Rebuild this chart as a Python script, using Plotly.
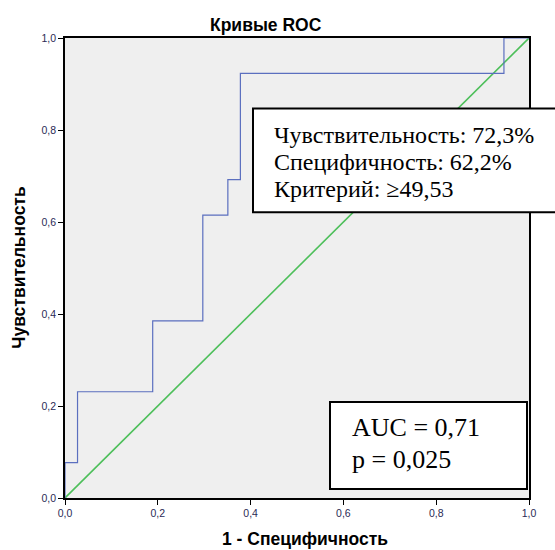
import plotly.graph_objects as go

# ROC curve data (step points, line_shape hv)
fpr = [0.0, 0.0, 0.027, 0.189, 0.297, 0.351, 0.378, 0.946, 1.0]
tpr = [0.0, 0.077, 0.231, 0.385, 0.615, 0.692, 0.923, 1.0, 1.0]
ref_x = [0.0, 1.0]
ref_y = [0.0, 1.0]
tick_vals = [0.0, 0.2, 0.4, 0.6, 0.8, 1.0]
tick_text = ["0,0", "0,2", "0,4", "0,6", "0,8", "1,0"]
box1_lines = ["Чувствительность: 72,3%", "Специфичность: 62,2%", "Критерий: ≥49,53"]
box2_lines = ["AUC = 0,71", "p = 0,025"]

W, H = 555, 550
L, R, T, B = 65, 26, 37.5, 52
pw, ph = W - L - R, H - T - B

def px(x):
    return (x - L) / pw

def py(y):
    return (H - B - y) / ph

fig = go.Figure()
fig.add_trace(go.Scatter(x=ref_x, y=ref_y, mode="lines",
                         line=dict(color="#4dbf5a", width=1.6), hoverinfo="skip"))
fig.add_trace(go.Scatter(x=fpr, y=tpr, mode="lines", line_shape="hv",
                         line=dict(color="#5b6fbf", width=1.2), hoverinfo="skip"))

axis_common = dict(range=[0, 1], tickvals=tick_vals, ticktext=tick_text,
                   ticks="outside", ticklen=5, tickcolor="black", tickwidth=1,
                   showgrid=False, zeroline=False, showline=True, linecolor="black",
                   linewidth=1.5, mirror=True,
                   tickfont=dict(family="Liberation Sans, Arial", size=10.5, color="#2a2a55"))
fig.update_xaxes(**axis_common)
fig.update_yaxes(**axis_common)

shapes = [
    dict(type="rect", xref="paper", yref="paper",
         x0=px(253), x1=px(556), y0=py(212), y1=py(108),
         line=dict(color="black", width=2), fillcolor="white", layer="above"),
    dict(type="rect", xref="paper", yref="paper",
         x0=px(330), x1=px(527), y0=py(489), y1=py(402),
         line=dict(color="black", width=2), fillcolor="white", layer="above"),
]

label_font = dict(family="Liberation Sans, Arial", size=17.5, color="black")
annotations = [
    dict(text="<b>Кривые ROC</b>", xref="paper", yref="paper", x=px(266), y=py(24),
         showarrow=False, font=label_font, xanchor="center", yanchor="middle"),
    dict(text="<b>1 - Специфичность</b>", xref="paper", yref="paper", x=px(305), y=py(539),
         showarrow=False, font=label_font, xanchor="center", yanchor="middle"),
    dict(text="<b>Чувствительность</b>", xref="paper", yref="paper", x=px(19), y=py(267.5),
         showarrow=False, textangle=-90, font=label_font,
         xanchor="center", yanchor="middle"),
]
for i, t in enumerate(box1_lines):
    annotations.append(dict(text=t, xref="paper", yref="paper", x=px(272), y=py(135 + 27 * i),
                            showarrow=False, xanchor="left", yanchor="middle",
                            font=dict(family="Liberation Serif, Times New Roman", size=24, color="black")))
for i, t in enumerate(box2_lines):
    annotations.append(dict(text=t, xref="paper", yref="paper", x=px(350), y=py(427.5 + 32 * i),
                            showarrow=False, xanchor="left", yanchor="middle",
                            font=dict(family="Liberation Serif, Times New Roman", size=26, color="black")))

fig.update_layout(width=W, height=H, margin=dict(l=L, r=R, t=T, b=B),
                  plot_bgcolor="#efefef", paper_bgcolor="white", showlegend=False,
                  shapes=shapes, annotations=annotations)
fig.write_html("out.html")
